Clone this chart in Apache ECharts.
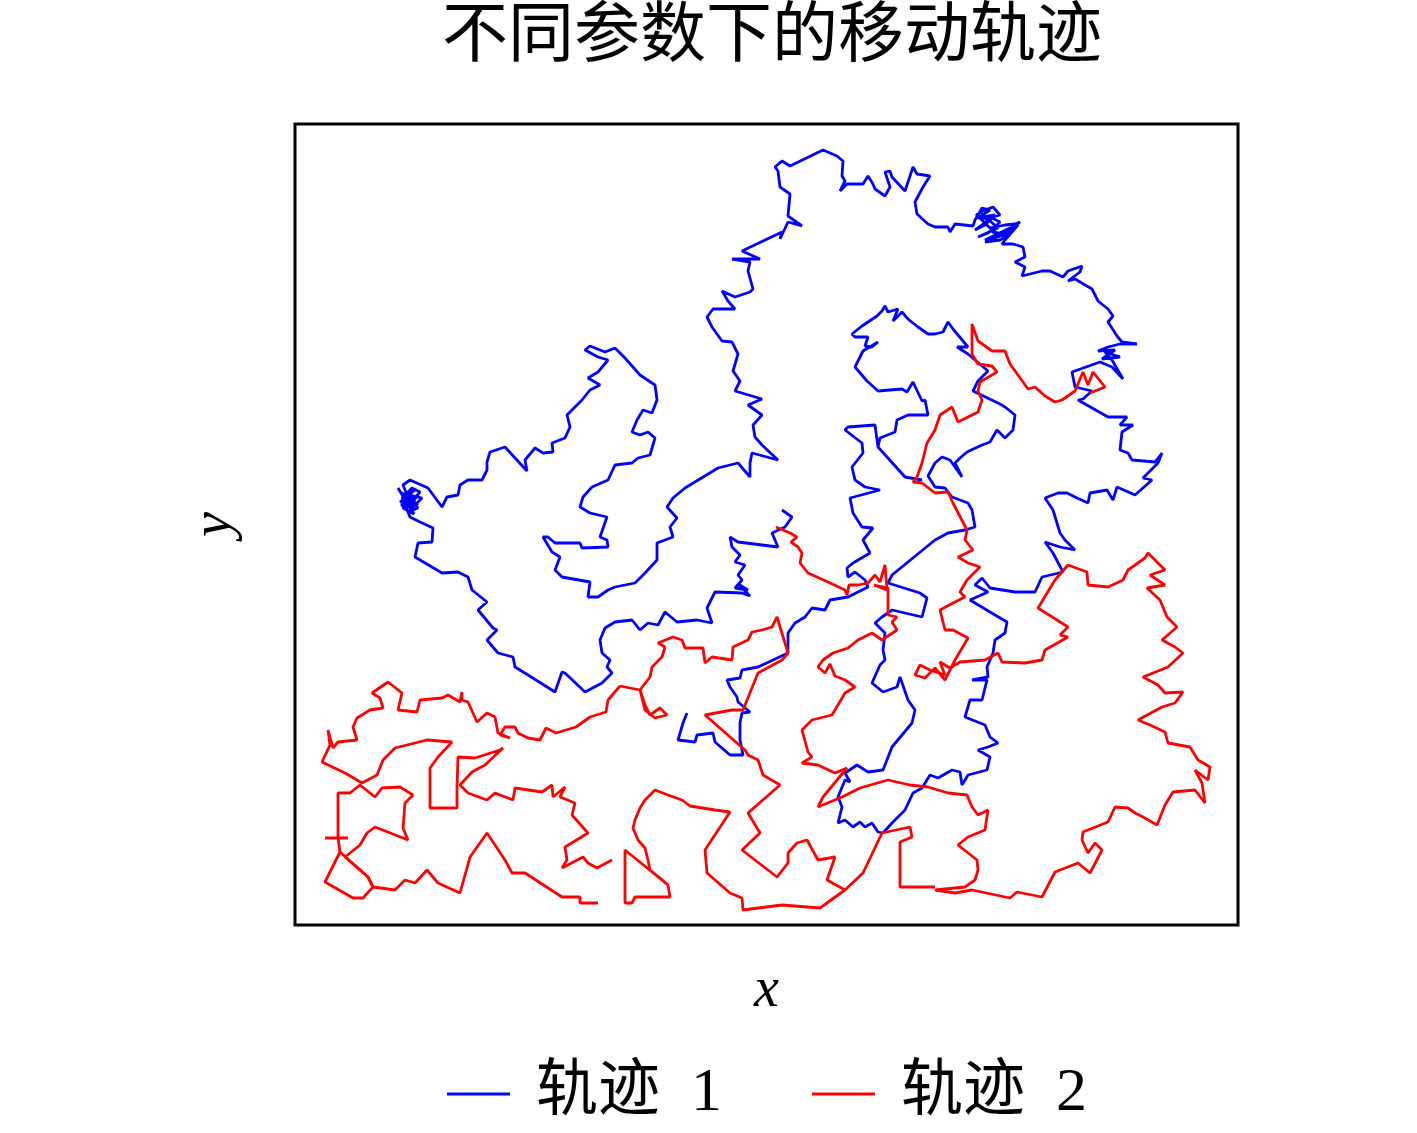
<!DOCTYPE html>
<html>
<head>
<meta charset="utf-8">
<title>不同参数下的移动轨迹</title>
<script src="https://cdn.jsdelivr.net/npm/echarts@6/dist/echarts.min.js"></script>
<style>
  html, body { margin: 0; padding: 0; background: #fff; }
  #chart { width: 1417px; height: 1133px; }
</style>
</head>
<body>
<div id="chart"></div>
<script>
// 轨迹点读自原图（单位为图上读数，y 轴向下增大）
// 轨迹 1：从起点出发的连续折线，分段存放
const track1Part1 = [
  [782,510],[792,517],[785,527],[772,533],[778,547],[762,545],[738,542],[730,537],[732,547],[740,555],
  [735,562],[745,565],[738,575],[742,580],[735,588],[748,590],[738,584],[750,596],[742,593],[715,592],[707,608],[712,623],
  [697,620],[677,622],[665,612],[658,625],[648,623],[640,630],[632,620],[615,622],[605,628],[600,640],
  [602,653],[610,660],[607,667],[612,673],[602,683],[585,692],[565,673],[562,672],[555,692],[528,675],
  [515,667],[513,657],[498,653],[487,640],[497,630],[493,628],[478,610],[487,602],[472,590],[468,577],
  [458,572],[442,573],[415,557],[418,543],[432,542],[433,528],[420,522],[410,517],[405,505],[412,498],
  [400,502],[415,490],[405,495],[418,505],[402,498],[412,488],[420,492],[405,510],[415,500],[400,492],
  [418,508],[408,512],[422,498],[410,495],[403,508],[414,514],[398,488],[407,503],[419,496],[401,505],
  [412,507],[403,485],[410,480],[428,488],[442,507],[447,497],[458,495],
  [460,485],[468,480],[482,480],[487,470],[487,462],[490,452],[505,447],[527,471],[525,460],[535,448],
  [543,453],[553,452],[552,443],[565,438],[570,427],[567,415],[582,400],[590,390],[600,385],[588,378],
  [598,372],[608,360],[598,357],[585,350],[590,346],[605,352],[615,348],[625,358],[640,375],[655,385],
  [657,400],[652,413],[643,410],[637,420],[632,432],[640,435],[648,432],[655,438],[650,455],[638,458],
  [632,463],[615,465],[608,480],[592,487],[583,497],[580,507],[590,513],[607,517],[600,537],[607,540],
  [608,547],[582,548],[580,543],[555,543],[548,537],[543,537],[552,552],[560,557],[555,570],[562,577],
  [590,582],[588,597],[598,597],[608,590],[615,587],[635,583],[645,573],[657,560],[657,543],[673,537],
  [670,527],[677,518],[667,507],[673,498],[685,488],[718,468],[738,463],[750,477],[750,463],[752,453],
  [778,460],[762,445],[755,437],[753,425],[762,415],[748,405],[762,399],[735,391],[740,381],[733,371],
  [738,354],[732,342],[722,341],[712,327],[707,317],[713,309],[735,309],[728,301],[722,291],[735,297],
  [750,292],[753,289],[748,271],[750,262],[732,259],[760,259],[742,251],[782,232],[780,239],[788,222],
  [802,226],[788,216],[790,194],[780,187],[778,171],[775,167],[782,161],[790,166],[823,150],[837,156],
  [843,161],[842,176],[845,181],[840,191],[847,184],[863,184],[868,176],[873,184],[875,189],[885,196],
  [890,187],[885,172],[890,171],[892,177],[905,191],[913,167],[917,174],[930,176],[923,187],[915,202],
  [917,214],[928,224],[935,227],[948,227],[950,232],[955,224],[973,226]
];
const track1Part2 = [
  [975,220],[982,208],[990,210],[978,218],[995,215],[985,225],[975,230],[992,218],[1000,222],[988,233],
  [978,237],[998,228],[980,212],[993,207],[1000,215],[986,219],[976,214],[990,228],[1005,225],[1015,224],
  [1020,222],[1008,232],[995,238],[985,242],[1000,240],[1010,235],[992,232],[1005,235],[985,240],[1010,228],
  [1018,225],[1005,240],[1002,244],[1013,244],[1023,247],[1025,257],[1015,262],[1025,267],[1022,276],[1042,271],[1050,271],
  [1063,277],[1068,271],[1082,266],[1080,272],[1068,281],[1075,279],[1092,289],[1098,301],[1108,309],[1113,316],
  [1108,322],[1117,336],[1122,342],[1137,344],[1120,344],[1108,347],[1098,351],[1115,350],[1102,359],[1120,357],
  [1105,352],[1112,360],[1123,379],[1112,367],[1100,362],[1072,372],[1075,387],[1092,391],[1083,399],[1078,400],[1108,417],[1127,417],
  [1120,425],[1133,425],[1122,432],[1120,450],[1128,453],[1132,460],[1155,462],[1162,453],[1158,463],[1143,478],
  [1152,480],[1135,495],[1117,487],[1113,500],[1107,490],[1090,493],[1088,503],[1075,497],[1067,493],[1058,493],
  [1045,498],[1053,510],[1060,533],[1065,540],[1075,550],[1060,547],[1045,542],[1053,553],[1063,572],[1042,577],
  [1035,592],[1015,592],[990,588],[982,578],[975,585],[988,592],[970,600],[990,612],[1007,622],[1005,633],
  [995,640],[993,653],[987,667],[988,677],[972,680],[987,680],[982,700],[970,700],[965,717],[985,725],
  [990,737],[998,743],[988,747],[978,750],[990,757],[987,770],[968,775],[962,785],[960,772],[952,770],
  [938,778],[930,775],[922,788],[913,793],[905,810],[892,823],[883,833],[878,832],[872,823],[865,827],
  [860,822],[853,827],[845,820],[838,823],[842,807],[838,797],[845,780],[850,782],[845,773],[857,765],
  [868,772],[883,770],[892,747],[912,723],[915,710],[908,700],[900,677],[897,687],[883,692],[872,683],
  [880,665],[885,660],[883,650],[885,633],[875,623],[882,617],[892,610],[922,617],[927,598],[920,593],
  [888,583],[892,575],[935,540],[948,533],[965,530],[975,527],[972,510],[968,503],[952,497],[945,488],
  [935,487],[928,476]
];
const track1Part3 = [
  [935,463],[942,457],[950,460],[962,477],[955,463],[960,458],[967,452],[982,445],[990,442],[997,430],
  [1005,438],[1013,430],[1015,415],[1005,407],[1000,404],[973,391],[978,381],[988,371],[968,354],[957,347],
  [968,347],[953,329],[948,322],[943,332],[935,334],[928,334],[918,327],[908,319],[902,312],[893,321],
  [898,309],[888,312],[885,306],[882,311],[877,316],[862,326],[852,334],[855,337],[868,337],[865,346],
  [872,347],[878,342],[863,351],[860,357],[855,367],[867,381],[878,391],[902,389],[907,392],[913,382],
  [922,401],[925,400],[928,415],[908,415],[897,420],[895,432],[880,438],[878,447],[905,477],[922,480],
  [905,477],[878,447],[875,425],[848,427],[845,430],[862,443],[863,453],[852,467],[855,480],[865,487],
  [880,490],[850,498],[853,513],[862,527],[873,528],[863,540],[870,553],[853,563],[847,568],[848,577],
  [855,572],[865,580],[868,587],[848,597],[830,600],[825,610],[812,608],[805,617],[795,623],[788,633],
  [788,653],[758,667],[742,670],[740,678],[727,680],[730,687],[737,697],[738,702],[750,712],[742,713],
  [740,723],[740,740],[743,755],[730,755],[715,742],[713,733],[697,735],[695,742],[678,740],[683,723],
  [687,713]
];

// 轨迹 2：各段分别存放
const track2PartA = [
  [776,527],[790,533],[797,537],[791,542],[798,547],[802,553],[800,563],[808,573],[828,582],[845,590],
  [847,595],[849,585],[858,585],[868,583],[875,575],[880,582],[885,565],[887,590],[874,585],[888,588],
  [888,615],[897,617],[892,622],[897,630],[882,640],[872,633],[858,640],[848,648],[833,653],[823,660],
  [818,667],[825,673],[830,664],[835,676],[845,680],[855,687],[845,693],[832,715],[812,720],[802,730],
  [808,752],[812,757],[802,763],[818,765],[835,773],[847,768],[823,797],[818,807],[842,797],[860,788],
  [888,780],[910,785],[928,787],[938,790],[948,793],[967,795],[972,807],[978,815],[988,810],[985,830],
  [968,837],[958,845],[977,860],[978,870],[975,880],[965,887],[935,890],[955,893],[972,890],[1010,898],
  [1017,892],[1042,897],[1055,872],[1078,863],[1090,873],[1102,850],[1095,843],[1088,853],[1082,840],[1083,832],
  [1108,822],[1115,807],[1128,808],[1135,813],[1143,817],[1157,825],[1165,805],[1173,792],[1195,790],[1205,803],
  [1202,783],[1195,770],[1208,780],[1210,767],[1198,760],[1190,747],[1168,743],[1165,732],[1150,725],[1138,720],
  [1162,707],[1175,703],[1183,692],[1165,693],[1158,685],[1143,677],[1168,667],[1183,653],[1175,647],[1162,640],
  [1177,627],[1167,617],[1160,600],[1147,588],[1165,585],[1150,575],[1165,570],[1148,553],[1145,558],[1128,570],
  [1123,580],[1108,587],[1088,585],[1087,572],[1068,565],[1055,580],[1038,608],[1068,627],[1060,635],[1068,637],
  [1045,650],[1042,660],[1025,663],[1002,662],[998,653],[985,660],[960,662],[950,668],[940,662],[945,675],
  [930,670],[920,665],[915,675],[925,678],[935,668],[945,680],[955,660],[968,638],[953,630],[945,630],
  [940,610],[955,602],[965,597],[960,592],[967,580],[980,567],[968,563],[958,557],[973,550],[965,540],
  [967,530],[953,503],[948,492],[935,493],[922,483],[913,482],[917,477],[922,463],[927,443],[935,430],
  [940,415],[952,407],[958,422],[978,412],[982,400],[978,391],[980,382],[997,372],[992,366],[978,364],
  [972,354],[972,331],[972,324],[978,341],[992,351],[1005,351],[1010,364],[1023,382],[1028,389],[1035,387],
  [1045,396],[1055,402],[1062,400],[1075,391],[1083,372],[1088,385],[1093,372],[1105,387],[1090,393]
];
const track2PartB = [
  [935,887],[920,887],[900,887],[900,842],[912,837],[910,827],[882,833],[863,873],[845,890],[827,880],
  [835,857],[818,860],[807,840],[797,843],[788,853],[788,863],[777,877],[742,850],[760,833],[748,813],
  [780,785],[763,775],[758,760],[748,755],[745,750],[705,715],[732,710],[743,710],[758,673],[782,660],
  [788,653],[777,617],[772,627],[762,630],[752,632],[748,640],[733,647],[732,660],[712,657],[705,663],
  [703,648],[685,648],[682,640],[673,637],[658,643],[665,647],[662,657],[652,667],[650,677],[640,690],
  [645,705],[650,715],[660,708],[667,715],[655,718],[645,710],[640,690],[620,686]
];
const track2PartC = [
  [845,890],[820,908],[782,905],[743,910],[742,898],[730,893],[707,873],[705,850],[730,812],[715,810],
  [690,806],[682,800],[668,795],[655,790],[645,800],[640,808],[635,820],[633,828],[638,840],[645,848],
  [648,860],[650,870],[660,878],[668,885],[670,897],[635,897],[632,903],[625,903],[625,850],[668,885]
];
const track2PartD = [
  [620,686],[608,700],[606,712],[590,717],[576,727],[556,733],[546,728],[540,740],[528,738],[518,733],
  [515,727],[505,727],[500,735],[510,738],[498,733],[495,717],[487,713],[477,722],[468,702],[462,700],
  [462,692],[460,702],[448,695],[442,698],[420,700],[417,712],[398,710],[402,693],[388,682],[372,693],
  [380,698],[383,708],[370,710],[357,718],[353,727],[357,740],[338,742],[333,748],[328,730],[330,745],
  [322,762],[345,773],[362,783],[377,775],[383,760],[395,748],[427,740],[452,742],[438,757],[430,768],
  [430,808],[457,808],[457,787],[458,757],[475,758],[500,750],[503,748],[485,765],[472,772],[460,785],
  [468,793],[487,800],[495,793],[513,800],[515,788],[542,792],[552,785],[553,797],[565,787],[560,797],
  [575,803],[572,815],[588,833],[565,847],[567,860],[562,868],[583,857],[588,863],[597,868],[612,860]
];
const track2PartE = [
  [325,838],[348,838],[338,838],[340,852],[325,882],[353,898],[363,898],[373,887],[368,877],[345,857],
  [360,845],[367,833],[375,827],[408,840],[403,828],[405,803],[413,795],[400,787],[382,788],[375,797],
  [360,785],[350,793],[338,793],[338,838]
];
const track2PartF = [
  [340,852],[368,877],[373,887],[395,890],[405,880],[415,883],[427,870],[438,883],[460,893],[470,857],
  [487,833],[505,860],[512,873],[525,873],[562,897],[580,897],[580,903],[598,903]
];

const seriesNames = ['轨迹 1', '轨迹 2']
const seriesColors = ['#0000ff', '#ff0000']

const chart = echarts.init(document.getElementById('chart'), null, { renderer: 'canvas' })

const serifFont = '"Liberation Serif", "Noto Sans CJK SC", serif'

function trackSeries(name, color, data) {
  return {
    name: name,
    type: 'line',
    data: data,
    showSymbol: false,
    symbol: 'none',
    animation: false,
    silent: true,
    lineStyle: { color: color, width: 2.8 },
    itemStyle: { color: color }
  }
}

const track1 = [].concat(track1Part1, track1Part2, track1Part3)
const track2Parts = [track2PartA, track2PartB, track2PartC, track2PartD, track2PartE, track2PartF]

const series = [trackSeries(seriesNames[0], seriesColors[0], track1)]
track2Parts.forEach(part => series.push(trackSeries(seriesNames[1], seriesColors[1], part)))

const option = {
  backgroundColor: '#fff',
  animation: false,
  title: {
    text: '不同参数下的移动轨迹',
    left: 767,
    top: 1,
    textAlign: 'center',
    textStyle: {
      fontFamily: serifFont,
      fontWeight: 'normal',
      fontSize: 66,
      color: '#000'
    }
  },
  legend: {
    data: [
      { name: seriesNames[0], icon: 'rect' },
      { name: seriesNames[1], icon: 'rect' }
    ],
    left: 447,
    top: 1063,
    padding: 0,
    itemWidth: 63,
    itemHeight: 3,
    itemGap: 90,
    // 名称中的空格在图中较宽
    formatter: name => name.replace(' ', '\u2002'),
    textStyle: {
      fontFamily: serifFont,
      fontSize: 62,
      color: '#000',
      padding: [0, 0, 0, 21]
    }
  },
  grid: {
    left: 295,
    top: 124,
    width: 943,
    height: 801,
    show: true,
    borderColor: '#000',
    borderWidth: 3,
    backgroundColor: '#fff'
  },
  xAxis: {
    type: 'value',
    min: 295,
    max: 1238,
    name: 'x',
    nameLocation: 'middle',
    nameGap: 38,
    nameTextStyle: {
      fontFamily: '"Liberation Serif", serif',
      fontStyle: 'italic',
      fontSize: 56,
      color: '#000'
    },
    axisLine: { show: false },
    axisTick: { show: false },
    axisLabel: { show: false },
    splitLine: { show: false }
  },
  yAxis: {
    type: 'value',
    min: 124,
    max: 925,
    inverse: true,
    name: 'y',
    nameLocation: 'middle',
    nameGap: 52,
    nameTextStyle: {
      fontFamily: '"Liberation Serif", serif',
      fontStyle: 'italic',
      fontSize: 56,
      color: '#000'
    },
    axisLine: { show: false },
    axisTick: { show: false },
    axisLabel: { show: false },
    splitLine: { show: false }
  },
  series: series
}

chart.setOption(option)
</script>
</body>
</html>
